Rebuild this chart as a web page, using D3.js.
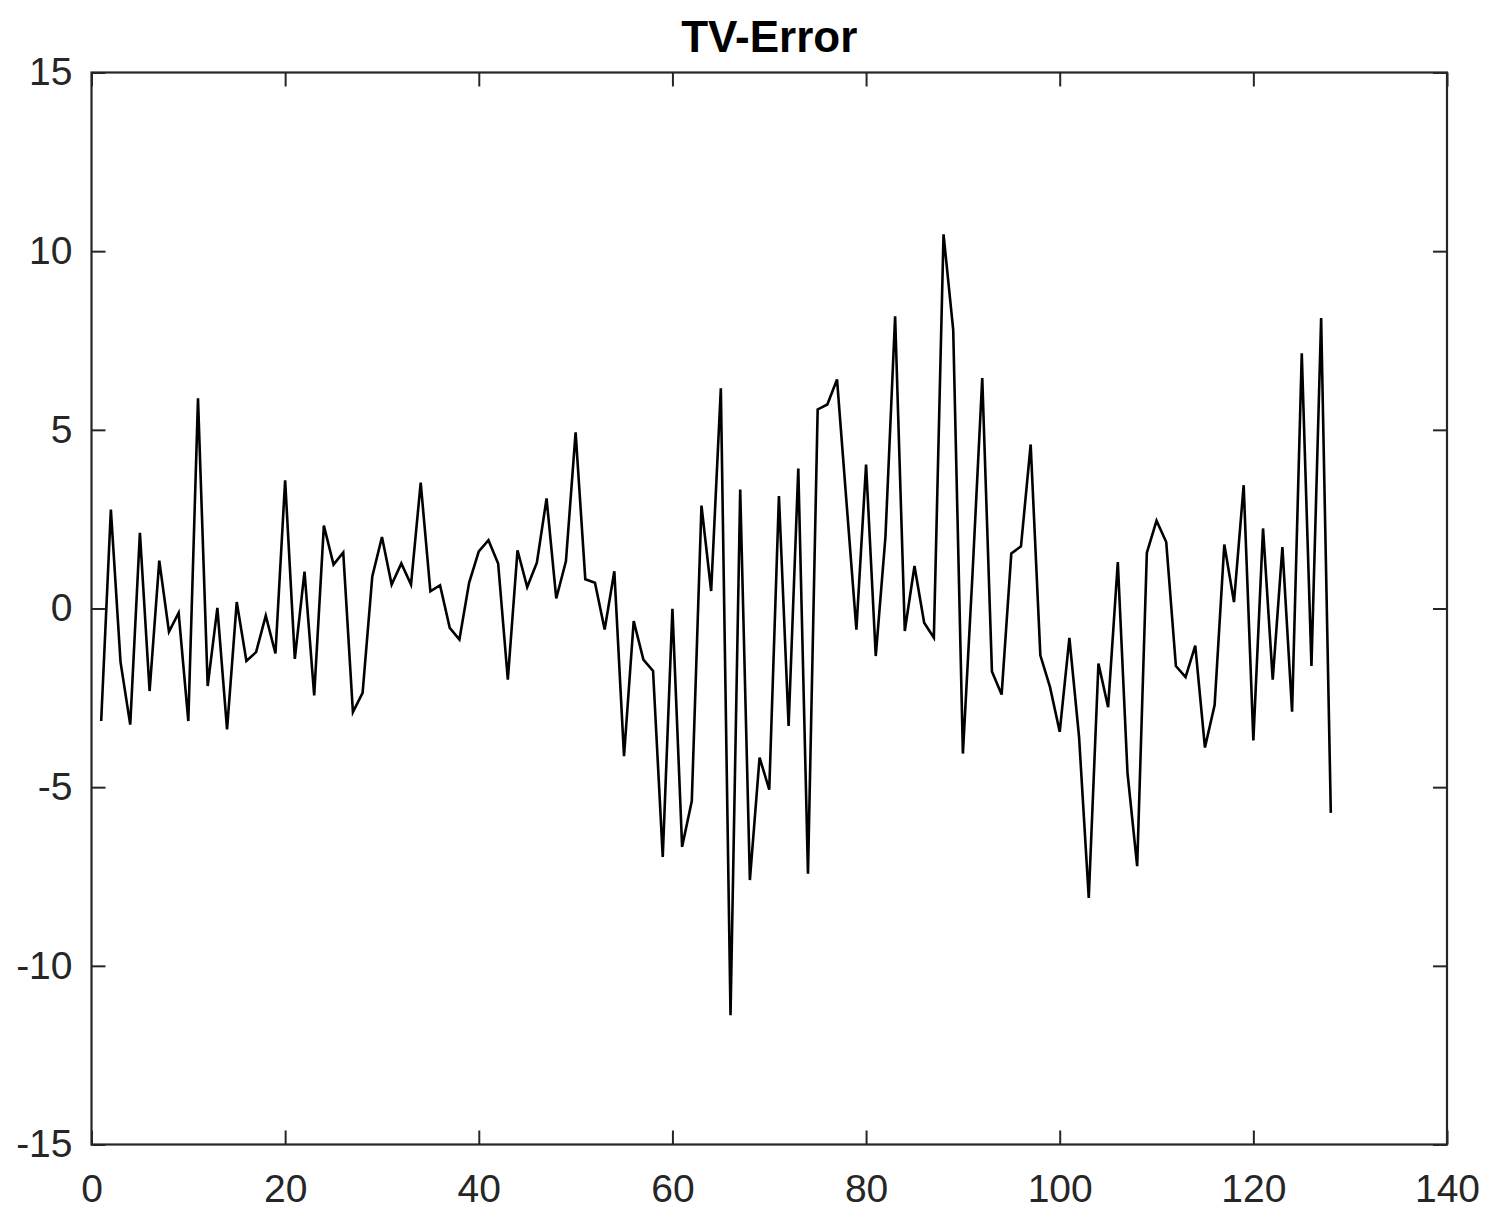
<!DOCTYPE html>
<html>
<head>
<meta charset="utf-8">
<script src="https://cdn.jsdelivr.net/npm/d3@7"></script>
<style>
  body { margin: 0; background: #fff; }
  svg { display: block; }
</style>
</head>
<body>
<svg id="drawing_region"></svg>
<script>
// sample index 1..128 and the TV error
const sample_index = d3.range(1, 129);
const tv_error = [
  -3.15, 2.77, -1.5, -3.25, 2.12, -2.31, 1.34, -0.65, -0.12, -3.15,
  5.88, -2.17, 0.02, -3.38, 0.18, -1.47, -1.22, -0.2, -1.26, 3.59,
  -1.41, 1.03, -2.43, 2.32, 1.23, 1.57, -2.9, -2.36, 0.9, 2.0,
  0.67, 1.26, 0.67, 3.52, 0.48, 0.65, -0.54, -0.87, 0.72, 1.6,
  1.91, 1.26, -1.99, 1.63, 0.6, 1.28, 3.08, 0.28, 1.32, 4.93,
  0.82, 0.72, -0.59, 1.04, -4.13, -0.35, -1.43, -1.75, -6.95, -0.01,
  -6.67, -5.39, 2.88, 0.49, 6.16, -11.38, 3.33, -7.6, -4.17, -5.07,
  3.15, -3.29, 3.92, -7.42, 5.57, 5.71, 6.41, 2.9, -0.59, 4.03,
  -1.33, 2.0, 8.18, -0.63, 1.19, -0.4, -0.82, 10.47, 7.8, -4.06,
  1.0, 6.45, -1.76, -2.41, 1.54, 1.74, 4.59, -1.31, -2.2, -3.45,
  -0.82, -3.6, -8.1, -1.54, -2.76, 1.3, -4.6, -7.21, 1.56, 2.46,
  1.86, -1.61, -1.92, -1.04, -3.89, -2.7, 1.79, 0.18, 3.45, -3.69,
  2.24, -1.99, 1.72, -2.89, 7.14, -1.61, 8.13, -5.72
];
const x_ticks = [0, 20, 40, 60, 80, 100, 120, 140];
const y_ticks = [-15, -10, -5, 0, 5, 10, 15];
const chart_title = 'TV-Error';

const data = sample_index.map((i, k) => ({ x: i, y: tv_error[k] }));

const config = {
    width: 1496,
    height: 1227,
    margin: {top: 72.5, right: 49, bottom: 82.5, left: 91.5}
};

const axis_color = '#262626';
const font = '"Liberation Sans", Arial, Helvetica, sans-serif';
const tick_len = 14;

const svg = d3.select('#drawing_region')
    .attr('width', config.width)
    .attr('height', config.height);

const inner_width = config.width - config.margin.left - config.margin.right;
const inner_height = config.height - config.margin.top - config.margin.bottom;

const chart = svg.append('g')
    .attr('transform', `translate(${config.margin.left}, ${config.margin.top})`);

const xscale = d3.scaleLinear().domain([0, 140]).range([0, inner_width]);
const yscale = d3.scaleLinear().domain([-15, 15]).range([inner_height, 0]);

// line first, axes box on top
const line = d3.line()
    .x(d => xscale(d.x))
    .y(d => yscale(d.y));

chart.append('path')
    .datum(data)
    .attr('fill', 'none')
    .attr('stroke', '#000')
    .attr('stroke-width', 2.6)
    .attr('stroke-linejoin', 'miter')
    .attr('d', line);

// ticks pointing inward, like matlab; plain hyphen for negatives
const fmt = d => String(d);
const xaxis = d3.axisBottom(xscale).tickValues(x_ticks).tickFormat(fmt)
    .tickSizeInner(-tick_len).tickSizeOuter(0).tickPadding(30);
const yaxis = d3.axisLeft(yscale).tickValues(y_ticks).tickFormat(fmt)
    .tickSizeInner(-tick_len).tickSizeOuter(0).tickPadding(19);
const xaxis_top = d3.axisTop(xscale).tickValues(x_ticks)
    .tickSizeInner(-tick_len).tickSizeOuter(0).tickFormat('');
const yaxis_right = d3.axisRight(yscale).tickValues(y_ticks)
    .tickSizeInner(-tick_len).tickSizeOuter(0).tickFormat('');

const groups = [
    chart.append('g').attr('transform', `translate(0, ${inner_height})`).call(xaxis),
    chart.append('g').call(yaxis),
    chart.append('g').call(xaxis_top),
    chart.append('g').attr('transform', `translate(${inner_width}, 0)`).call(yaxis_right)
];

groups.forEach(g => {
    g.select('.domain').remove();
    g.selectAll('.tick line')
        .attr('stroke', axis_color)
        .attr('stroke-width', 2);
    g.selectAll('.tick text')
        .attr('fill', axis_color)
        .style('font-family', font)
        .style('font-size', '39px');
});

chart.append('rect')
    .attr('x', 0)
    .attr('y', 0)
    .attr('width', inner_width)
    .attr('height', inner_height)
    .attr('fill', 'none')
    .attr('stroke', axis_color)
    .attr('stroke-width', 2.2);

svg.append('text')
    .attr('x', config.margin.left + inner_width / 2)
    .attr('y', 52)
    .attr('text-anchor', 'middle')
    .style('font-family', font)
    .style('font-size', '44px')
    .style('font-weight', 'bold')
    .attr('fill', '#000')
    .text(chart_title);
</script>
</body>
</html>
